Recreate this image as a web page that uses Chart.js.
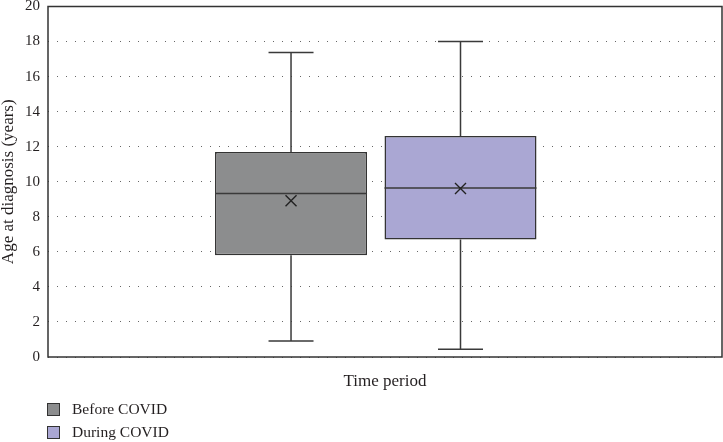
<!DOCTYPE html>
<html>
<head>
<meta charset="utf-8">
<script src="https://cdn.jsdelivr.net/npm/chart.js@4/dist/chart.umd.min.js"></script>
<style>
  html, body { margin: 0; padding: 0; background: #fff; }
  #wrap { position: relative; width: 723px; height: 442px; }
  #legend { position: absolute; left: 47px; top: 401px; font-family: "Liberation Serif", serif; font-size: 15.5px; color: #231f20; }
  #legend div { height: 23px; line-height: 16px; display: flex; align-items: flex-start; }
  #legend span.sw { display: inline-block; width: 11px; height: 11px; border: 1px solid #333; margin: 2px 12px 0 0; }
</style>
</head>
<body>
<div id="wrap">
  <canvas id="myChart" width="723" height="442"></canvas>
  <div id="legend"></div>
</div>
<script>
"use strict";

var groups = ['Before COVID', 'During COVID'];
var minVals = [0.91, 0.44];
var q1Vals = [5.81, 6.70];
var medianVals = [9.33, 9.64];
var meanVals = [8.91, 9.62];
var q3Vals = [11.70, 12.61];
var maxVals = [17.37, 18.0];
var colors = ['#8c8d8e', '#aaa7d3'];
var yTicks = [0, 2, 4, 6, 8, 10, 12, 14, 16, 18, 20];

var serif = '"Liberation Serif", "Times New Roman", serif';

var boxExtras = {
    id: 'boxExtras',
    afterDatasetsDraw: function (chart) {
        var c = chart.ctx;
        var y = chart.scales.y;
        c.save();
        chart.data.datasets.forEach(function (ds, i) {
            var el = chart.getDatasetMeta(i).data[0];
            var x = el.x, w = el.width, cap = w * 0.148;
            c.strokeStyle = '#3a3a3a';
            c.lineWidth = 1.5;
            c.beginPath();
            // whiskers + caps
            c.moveTo(x, y.getPixelForValue(q3Vals[i]));
            c.lineTo(x, y.getPixelForValue(maxVals[i]));
            c.moveTo(x - cap, y.getPixelForValue(maxVals[i]));
            c.lineTo(x + cap, y.getPixelForValue(maxVals[i]));
            c.moveTo(x, y.getPixelForValue(q1Vals[i]));
            c.lineTo(x, y.getPixelForValue(minVals[i]));
            c.moveTo(x - cap, y.getPixelForValue(minVals[i]));
            c.lineTo(x + cap, y.getPixelForValue(minVals[i]));
            // median
            c.moveTo(x - w / 2, y.getPixelForValue(medianVals[i]));
            c.lineTo(x + w / 2, y.getPixelForValue(medianVals[i]));
            c.stroke();
            // mean marker
            var my = y.getPixelForValue(meanVals[i]), s = 5.5;
            c.strokeStyle = '#222';
            c.lineWidth = 1.4;
            c.beginPath();
            c.moveTo(x - s, my - s); c.lineTo(x + s, my + s);
            c.moveTo(x - s, my + s); c.lineTo(x + s, my - s);
            c.stroke();
        });
        // frame round the plot area
        var a = chart.chartArea;
        c.strokeStyle = '#333';
        c.lineWidth = 1.5;
        c.strokeRect(a.left, a.top, a.right - a.left, a.bottom - a.top);
        c.restore();
    }
};

var datasets = groups.map(function (g, i) {
    return {
        label: g,
        data: [{ x: i, y: [q1Vals[i], q3Vals[i]] }],
        backgroundColor: colors[i],
        borderColor: '#333',
        borderWidth: 1.5,
        borderSkipped: false,
        grouped: false,
        categoryPercentage: 1,
        barPercentage: 0.897
    };
});

function noPad(s) {
    s.paddingTop = 0;
    s.paddingBottom = 0;
    s.paddingLeft = 0;
    s.paddingRight = 0;
}

var ctx = document.querySelector('#myChart').getContext('2d');

var myChart = new Chart(ctx, {
    type: 'bar',
    data: {
        datasets: datasets
    },
    options: {
        responsive: false,
        animation: false,
        layout: {
            autoPadding: false,
            padding: { top: 6.5, right: 1, bottom: 0, left: 0 }
        },
        plugins: {
            legend: false,
            tooltip: { enabled: false }
        },
        scales: {
            x: {
                type: 'linear',
                offset: false,
                min: -1.434,
                max: 2.543,
                afterBuildTicks: function (s) {
                    s.ticks = groups.map(function (g, i) { return { value: i }; });
                },
                grid: { display: false, offset: false },
                border: { display: false },
                ticks: { display: false },
                title: {
                    display: true,
                    text: 'Time period',
                    color: '#231f20',
                    padding: { top: 0, bottom: 52 },
                    font: { family: serif, size: 17, lineHeight: 1 }
                },
                afterFit: function (s) { s.height = 85; noPad(s); }
            },
            y: {
                min: 0,
                max: 20,
                afterBuildTicks: function (s) {
                    s.ticks = yTicks.map(function (v) { return { value: v }; });
                },
                grid: {
                    color: '#666',
                    lineWidth: 1,
                    drawTicks: false
                },
                border: { display: false, dash: [1, 8] },
                ticks: {
                    color: '#231f20',
                    padding: 8,
                    font: { family: serif, size: 15 }
                },
                title: {
                    display: true,
                    text: 'Age at diagnosis (years)',
                    color: '#231f20',
                    padding: 0,
                    font: { family: serif, size: 17, lineHeight: 1.06 }
                },
                afterFit: function (s) { s.width = 48; noPad(s); }
            }
        }
    },
    plugins: [boxExtras]
});

var legendEl = document.getElementById('legend');
groups.forEach(function (g, i) {
    var row = document.createElement('div');
    var sw = document.createElement('span');
    sw.className = 'sw';
    sw.style.background = colors[i];
    row.appendChild(sw);
    row.appendChild(document.createTextNode(g));
    legendEl.appendChild(row);
});
</script>
</body>
</html>
